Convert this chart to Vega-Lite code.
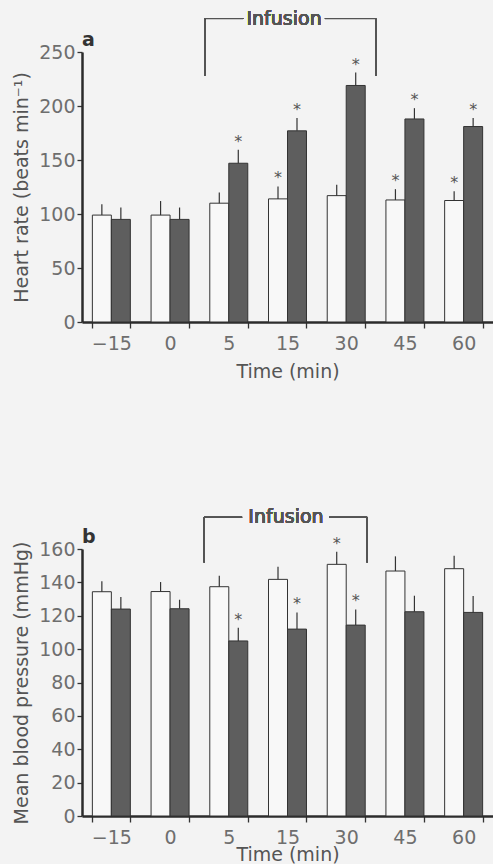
{
  "$schema": "https://vega.github.io/schema/vega-lite/v6.json",
  "padding": {"left": 12, "top": 9, "right": 0, "bottom": 0},
  "background": "#f3f3f3",
  "bounds": "flush",
  "spacing": 227,
  "config": {
    "view": {"stroke": null},
    "font": "DejaVu Sans",
    "axis": {
      "domainColor": "#2b2b2b", "domainWidth": 2.5,
      "tickColor": "#333333", "tickWidth": 1.3, "tickSize": 5,
      "labelColor": "#6e6e6e", "labelFont": "DejaVu Sans", "labelFontSize": 19, "labelOverlap": false,
      "titleColor": "#555555", "titleFont": "DejaVu Sans", "titleFontSize": 19, "titleFontWeight": "normal",
      "grid": false
    }
  },
  "datasets": {
    "hr": [
      {"time": "−15", "group": "control", "value": 99, "upper": 109, "sig": false},
      {"time": "−15", "group": "drug", "value": 95, "upper": 106, "sig": false},
      {"time": "0", "group": "control", "value": 99, "upper": 112, "sig": false},
      {"time": "0", "group": "drug", "value": 95, "upper": 106, "sig": false},
      {"time": "5", "group": "control", "value": 110, "upper": 120, "sig": false},
      {"time": "5", "group": "drug", "value": 147, "upper": 159.5, "sig": true},
      {"time": "15", "group": "control", "value": 114, "upper": 125.5, "sig": true},
      {"time": "15", "group": "drug", "value": 177, "upper": 189, "sig": true},
      {"time": "30", "group": "control", "value": 117, "upper": 127, "sig": false},
      {"time": "30", "group": "drug", "value": 219, "upper": 231, "sig": true},
      {"time": "45", "group": "control", "value": 113, "upper": 123, "sig": true},
      {"time": "45", "group": "drug", "value": 188, "upper": 198, "sig": true},
      {"time": "60", "group": "control", "value": 112.5, "upper": 121, "sig": true},
      {"time": "60", "group": "drug", "value": 181, "upper": 189, "sig": true}
    ],
    "bp": [
      {"time": "−15", "group": "control", "value": 134.4, "upper": 140.6, "sig": false},
      {"time": "−15", "group": "drug", "value": 124, "upper": 131.2, "sig": false},
      {"time": "0", "group": "control", "value": 134.5, "upper": 140.2, "sig": false},
      {"time": "0", "group": "drug", "value": 124.2, "upper": 129.6, "sig": false},
      {"time": "5", "group": "control", "value": 137.4, "upper": 144, "sig": false},
      {"time": "5", "group": "drug", "value": 104.9, "upper": 112.8, "sig": true},
      {"time": "15", "group": "control", "value": 141.8, "upper": 149.4, "sig": false},
      {"time": "15", "group": "drug", "value": 112, "upper": 122, "sig": true},
      {"time": "30", "group": "control", "value": 150.8, "upper": 158.4, "sig": true},
      {"time": "30", "group": "drug", "value": 114.4, "upper": 123.8, "sig": true},
      {"time": "45", "group": "control", "value": 146.8, "upper": 155.6, "sig": false},
      {"time": "45", "group": "drug", "value": 122.4, "upper": 132, "sig": false},
      {"time": "60", "group": "control", "value": 148.2, "upper": 156, "sig": false},
      {"time": "60", "group": "drug", "value": 122, "upper": 131.8, "sig": false}
    ]
  },
  "vconcat": [
    {
      "width": 411, "height": 270,
      "title": {"text": "a", "anchor": "start", "frame": "group", "fontSize": 19, "fontWeight": "bold", "color": "#333333", "offset": -40, "font": "DejaVu Sans"},
      "data": {"name": "hr"},
      "layer": [
        {
          "mark": {"type": "bar", "stroke": "#333333", "strokeWidth": 1},
          "encoding": {
            "x": {"field": "time", "type": "nominal", "scale": {"domain": ["−15", "0", "5", "15", "30", "45", "60"], "paddingInner": 0.353, "paddingOuter": 0.1765},
                  "axis": {"title": "Time (min)", "labelAngle": 0, "tickBand": "extent", "tickSize": 6, "labelPadding": 6, "titlePadding": 9, "labelOverlap": false}},
            "xOffset": {"field": "group", "type": "nominal", "scale": {"domain": ["control", "drug"], "paddingInner": 0, "paddingOuter": 0}},
            "y": {"field": "value", "type": "quantitative", "scale": {"domain": [0, 250], "nice": false},
                  "axis": {"title": "Heart rate (beats min⁻¹)", "values": [0, 50, 100, 150, 200, 250], "labelPadding": 2, "titlePadding": 7, "labelOverlap": false}},
            "fill": {"field": "group", "type": "nominal", "scale": {"domain": ["control", "drug"], "range": ["#f8f8f8", "#5e5e5e"]}, "legend": null}
          }
        },
        {
          "mark": {"type": "rule", "color": "#333333", "strokeWidth": 1.2},
          "encoding": {
            "x": {"field": "time", "type": "nominal"},
            "xOffset": {"field": "group", "type": "nominal"},
            "y": {"field": "value", "type": "quantitative"},
            "y2": {"field": "upper"}
          }
        },
        {
          "transform": [{"filter": "datum.sig"}],
          "mark": {"type": "text", "text": "*", "fontSize": 16, "color": "#555555", "baseline": "alphabetic", "dy": -3, "font": "DejaVu Sans"},
          "encoding": {
            "x": {"field": "time", "type": "nominal"},
            "xOffset": {"field": "group", "type": "nominal"},
            "y": {"field": "upper", "type": "quantitative"}
          }
        },
        {
          "mark": {"type": "rule", "color": "#555555", "strokeWidth": 1},
          "encoding": {
            "x": {"datum": "5", "type": "nominal", "bandPosition": -0.13},
            "y": {"datum": 228, "type": "quantitative"},
            "y2": {"datum": 281}
          }
        },
        {
          "mark": {"type": "rule", "color": "#555555", "strokeWidth": 1},
          "encoding": {
            "x": {"datum": "30", "type": "nominal", "bandPosition": 1.28},
            "y": {"datum": 228, "type": "quantitative"},
            "y2": {"datum": 281}
          }
        },
        {
          "mark": {"type": "rule", "color": "#555555", "strokeWidth": 1},
          "encoding": {
            "x": {"datum": "5", "type": "nominal", "bandPosition": -0.13},
            "x2": {"datum": "5", "bandPosition": 0.88},
            "y": {"datum": 281, "type": "quantitative"}
          }
        },
        {
          "mark": {"type": "rule", "color": "#555555", "strokeWidth": 1},
          "encoding": {
            "x": {"datum": "30", "type": "nominal", "bandPosition": -0.06},
            "x2": {"datum": "30", "bandPosition": 1.28},
            "y": {"datum": 281, "type": "quantitative"}
          }
        },
        {
          "mark": {"type": "text", "text": "Infusion", "fontSize": 19, "color": "#555555", "baseline": "middle", "align": "center", "font": "DejaVu Sans"},
          "encoding": {
            "x": {"datum": "15", "type": "nominal", "bandPosition": 0.41},
            "y": {"datum": 281, "type": "quantitative"}
          }
        }
      ]
    },
    {
      "width": 411, "height": 267,
      "title": {"text": "b", "anchor": "start", "frame": "group", "fontSize": 19, "fontWeight": "bold", "color": "#333333", "offset": -39, "font": "DejaVu Sans"},
      "data": {"name": "bp"},
      "layer": [
        {
          "mark": {"type": "bar", "stroke": "#333333", "strokeWidth": 1},
          "encoding": {
            "x": {"field": "time", "type": "nominal", "scale": {"domain": ["−15", "0", "5", "15", "30", "45", "60"], "paddingInner": 0.353, "paddingOuter": 0.1765},
                  "axis": {"title": "Time (min)", "labelAngle": 0, "tickBand": "extent", "tickSize": 6, "labelPadding": 6, "titlePadding": -2, "labelOverlap": false}},
            "xOffset": {"field": "group", "type": "nominal", "scale": {"domain": ["control", "drug"], "paddingInner": 0, "paddingOuter": 0}},
            "y": {"field": "value", "type": "quantitative", "scale": {"domain": [0, 160], "nice": false},
                  "axis": {"title": "Mean blood pressure (mmHg)", "values": [0, 20, 40, 60, 80, 100, 120, 140, 160], "tickCount": 9, "labelPadding": 2, "titlePadding": 7, "labelOverlap": false}},
            "fill": {"field": "group", "type": "nominal", "scale": {"domain": ["control", "drug"], "range": ["#f8f8f8", "#5e5e5e"]}, "legend": null}
          }
        },
        {
          "mark": {"type": "rule", "color": "#333333", "strokeWidth": 1.2},
          "encoding": {
            "x": {"field": "time", "type": "nominal"},
            "xOffset": {"field": "group", "type": "nominal"},
            "y": {"field": "value", "type": "quantitative", "axis": {"title": "Mean blood pressure (mmHg)", "values": [0, 20, 40, 60, 80, 100, 120, 140, 160], "tickCount": 9, "labelPadding": 2, "titlePadding": 7, "labelOverlap": false}},
            "y2": {"field": "upper"}
          }
        },
        {
          "transform": [{"filter": "datum.sig"}],
          "mark": {"type": "text", "text": "*", "fontSize": 16, "color": "#555555", "baseline": "alphabetic", "dy": -3, "font": "DejaVu Sans"},
          "encoding": {
            "x": {"field": "time", "type": "nominal"},
            "xOffset": {"field": "group", "type": "nominal"},
            "y": {"field": "upper", "type": "quantitative", "axis": {"title": "Mean blood pressure (mmHg)", "values": [0, 20, 40, 60, 80, 100, 120, 140, 160], "tickCount": 9, "labelPadding": 2, "titlePadding": 7, "labelOverlap": false}}
          }
        },
        {
          "mark": {"type": "rule", "color": "#555555", "strokeWidth": 1},
          "encoding": {
            "x": {"datum": "5", "type": "nominal", "bandPosition": -0.15},
            "y": {"datum": 152, "type": "quantitative", "axis": {"title": "Mean blood pressure (mmHg)", "values": [0, 20, 40, 60, 80, 100, 120, 140, 160], "tickCount": 9, "labelPadding": 2, "titlePadding": 7, "labelOverlap": false}},
            "y2": {"datum": 179}
          }
        },
        {
          "mark": {"type": "rule", "color": "#555555", "strokeWidth": 1},
          "encoding": {
            "x": {"datum": "30", "type": "nominal", "bandPosition": 1.05},
            "y": {"datum": 152, "type": "quantitative", "axis": {"title": "Mean blood pressure (mmHg)", "values": [0, 20, 40, 60, 80, 100, 120, 140, 160], "tickCount": 9, "labelPadding": 2, "titlePadding": 7, "labelOverlap": false}},
            "y2": {"datum": 179}
          }
        },
        {
          "mark": {"type": "rule", "color": "#555555", "strokeWidth": 1},
          "encoding": {
            "x": {"datum": "5", "type": "nominal", "bandPosition": -0.15},
            "x2": {"datum": "5", "bandPosition": 0.85},
            "y": {"datum": 179, "type": "quantitative", "axis": {"title": "Mean blood pressure (mmHg)", "values": [0, 20, 40, 60, 80, 100, 120, 140, 160], "tickCount": 9, "labelPadding": 2, "titlePadding": 7, "labelOverlap": false}}
          }
        },
        {
          "mark": {"type": "rule", "color": "#555555", "strokeWidth": 1},
          "encoding": {
            "x": {"datum": "30", "type": "nominal", "bandPosition": 0.05},
            "x2": {"datum": "30", "bandPosition": 1.05},
            "y": {"datum": 179, "type": "quantitative", "axis": {"title": "Mean blood pressure (mmHg)", "values": [0, 20, 40, 60, 80, 100, 120, 140, 160], "tickCount": 9, "labelPadding": 2, "titlePadding": 7, "labelOverlap": false}}
          }
        },
        {
          "mark": {"type": "text", "text": "Infusion", "fontSize": 19, "color": "#555555", "baseline": "middle", "align": "center", "font": "DejaVu Sans"},
          "encoding": {
            "x": {"datum": "15", "type": "nominal", "bandPosition": 0.46},
            "y": {"datum": 179, "type": "quantitative", "axis": {"title": "Mean blood pressure (mmHg)", "values": [0, 20, 40, 60, 80, 100, 120, 140, 160], "tickCount": 9, "labelPadding": 2, "titlePadding": 7, "labelOverlap": false}}
          }
        }
      ]
    }
  ]
}
